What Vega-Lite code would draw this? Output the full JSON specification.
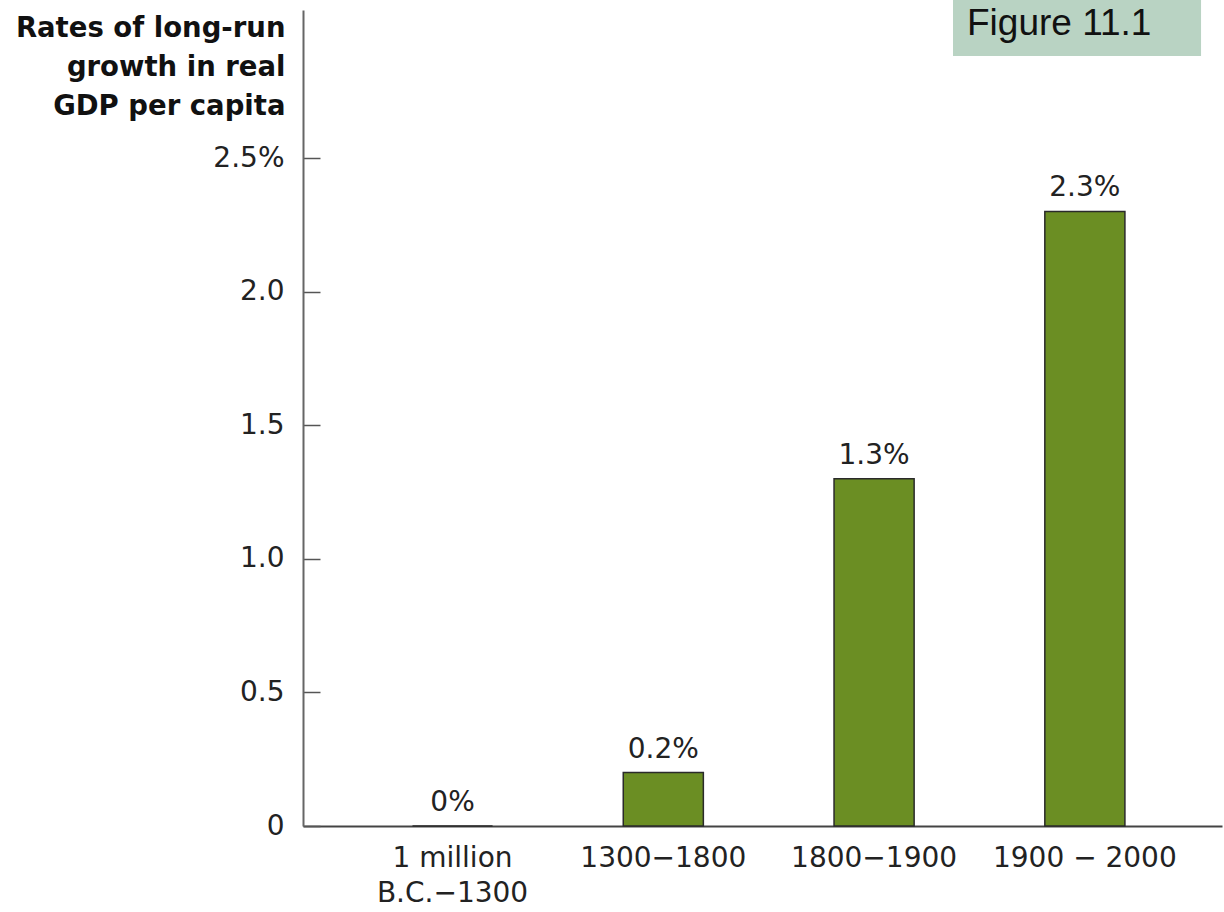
{
  "$schema": "https://vega.github.io/schema/vega-lite/v6.json",
  "width": 919,
  "height": 816,
  "autosize": {"type": "none"},
  "padding": {"left": 303, "top": 10, "right": 2, "bottom": 86},
  "background": "white",
  "config": {"view": {"stroke": null}, "font": "DejaVu Sans"},
  "layer": [
    {
      "data": {"values": [
        {"period": "1 million|B.C.−1300", "rate": 0, "label": "0%"},
        {"period": "1300−1800", "rate": 0.2, "label": "0.2%"},
        {"period": "1800−1900", "rate": 1.3, "label": "1.3%"},
        {"period": "1900 − 2000", "rate": 2.3, "label": "2.3%"}
      ]},
      "encoding": {
        "x": {
          "field": "period", "type": "nominal", "sort": null,
          "scale": {"paddingInner": 0.62, "paddingOuter": 0.49, "align": 0.53},
          "axis": {
            "title": null, "labelAngle": 0, "ticks": false, "labelLimit": 0,
            "labelExpr": "split(datum.label, '|')",
            "labelFontSize": 28, "labelColor": "#222", "labelLineHeight": 35,
            "labelPadding": 18, "domainColor": "#444", "domainWidth": 2, "grid": false
          }
        },
        "y": {
          "field": "rate", "type": "quantitative",
          "scale": {"domain": [0, 3.054], "nice": false, "zero": true},
          "axis": {
            "values": [0, 0.5, 1, 1.5, 2, 2.5],
            "labelExpr": "datum.value == 2.5 ? '2.5%' : datum.value == 0 ? '0' : format(datum.value, '.1f')",
            "title": ["Rates of long-run", "growth in real", "GDP per capita"],
            "titleAngle": 0, "titleAlign": "right", "titleBaseline": "alphabetic",
            "titleX": -18, "titleY": 26, "titleFont": "DejaVu Sans", "titleFontWeight": "bold",
            "titleFontSize": 27.5, "titleLineHeight": 39, "titleColor": "#111",
            "labelFontSize": 28, "labelColor": "#222", "labelPadding": 36,
            "tickSize": -17, "tickColor": "#555", "tickWidth": 1.5,
            "domainColor": "#666", "domainWidth": 2, "grid": false
          }
        }
      },
      "layer": [
        {"mark": {"type": "bar", "fill": "#6b8e23", "stroke": "#2a2a2a", "strokeWidth": 1.5}},
        {"mark": {"type": "text", "dy": -15, "baseline": "alphabetic", "fontSize": 28, "color": "#222"},
         "encoding": {"text": {"field": "label"}}}
      ]
    },
    {
      "data": {"values": [{"name": "Figure 11.1"}]},
      "layer": [
        {
          "mark": {"type": "rect", "fill": "#b9d3c3"},
          "encoding": {
            "x": {"datum": 0.7073, "type": "quantitative", "scale": {"domain": [0, 1]}, "axis": null},
            "x2": {"datum": 0.9772},
            "y": {"datum": 3.091, "type": "quantitative"},
            "y2": {"datum": 2.882}
          }
        },
        {
          "mark": {"type": "text", "align": "left", "baseline": "alphabetic", "font": "Liberation Sans", "fontSize": 37, "color": "#111"},
          "encoding": {
            "x": {"datum": 0.7225, "type": "quantitative", "scale": {"domain": [0, 1]}, "axis": null},
            "y": {"datum": 2.96, "type": "quantitative"},
            "text": {"field": "name"}
          }
        }
      ]
    }
  ],
  "resolve": {"scale": {"x": "independent"}}
}
